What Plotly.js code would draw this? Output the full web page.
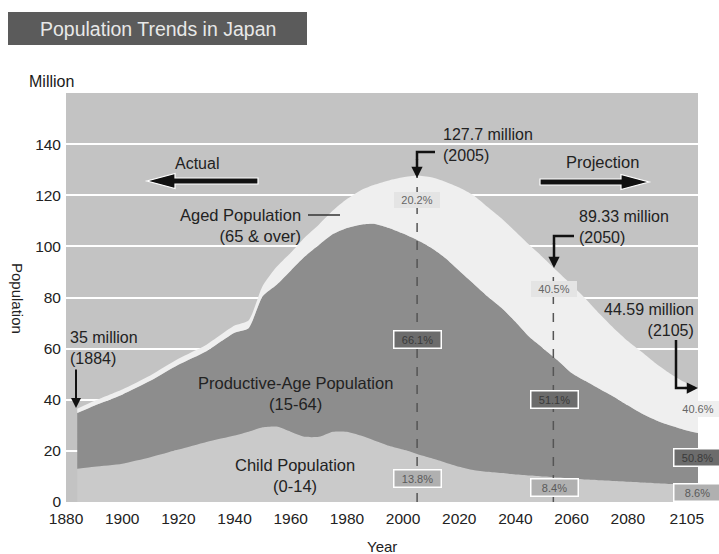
<!DOCTYPE html>
<html>
<head>
<meta charset="utf-8">
<script src="https://cdn.plot.ly/plotly-3.0.1.min.js"></script>
<style>html,body{margin:0;padding:0;background:#fff;}#chart{width:719px;height:554px;}</style>
</head>
<body>
<div id="chart"></div>
<script>
// ---- data (million people) ----
const years = [1884,1890,1900,1910,1920,1930,1940,1945,1950,1955,1960,1965,1970,1975,1980,1985,1990,1995,2000,2005,2010,2015,2020,2025,2030,2035,2040,2045,2050,2055,2060,2065,2070,2075,2080,2085,2090,2095,2100,2105];
const child = [13,13.8,15,17.5,20.5,23.5,26,27.5,29.2,29.5,27.5,25.5,25.5,27.5,27.5,26,24,22,20.5,18.8,17.2,15.5,13.8,12.5,11.8,11.3,10.8,10.4,10,9.6,9.2,8.8,8.5,8.2,7.9,7.6,7.3,7,6.8,6.5];
const productive = [21.8,23.9,27,29.9,33.2,35.5,40.2,40.5,51.3,55.5,63,70.5,75,77.3,79.7,82.5,84.8,85.2,84.5,83.7,82.3,80,76.7,73,68.7,64.7,59.7,54.1,50,45.9,41.3,38.5,35.7,33,29.9,27,24.7,23,21.5,20.5];
const aged = [1.7,1.8,2,2.1,2.3,2.5,2.8,3,4,7,7,7.5,8,9.2,11.3,13.5,15.4,18.6,22,25.2,27.5,29.8,32.5,34.5,35,35,35.3,36,35.5,34.7,34.5,32.2,29.3,26.8,25.2,24.1,22.2,20.3,18.7,17.6];

const tickYears = [1880,1900,1920,1940,1960,1980,2000,2020,2040,2060,2080,2101];
const tickText = ['1880','1900','1920','1940','1960','1980','2000','2020','2040','2060','2080','2105'];
const yTicks = [0,20,40,60,80,100,120,140];

const seriesNames = ['Child Population (0-14)','Productive-Age Population (15-64)','Aged Population (65 & over)'];
const seriesColors = ['#cacaca','#8d8d8d','#efefef'];

// ---- layout helpers (pixel -> paper) ----
const L=66, R=698, TP=93, B=502;
const X = p => (p-L)/(R-L);
const Y = p => (B-p)/(B-TP);
const FONT = 'Liberation Sans, Arial, Helvetica, sans-serif';

function txt(text, x, y, size, o) {
  o = o || {};
  return Object.assign({xref:'paper', yref:'paper', x:X(x), y:Y(y), text:text, showarrow:false,
    xanchor:o.xanchor||'center', yanchor:'middle', align:o.align||'center',
    font:{family:FONT, size:size, color:o.color||'#222'}}, o.extra||{});
}
function pct(text, x, y, bg, fg, border) {
  return {xref:'paper', yref:'paper', x:X(x), y:Y(y), text:text, showarrow:false,
    xanchor:'center', yanchor:'middle', font:{family:FONT, size:11, color:fg},
    bgcolor:bg, bordercolor:border, borderwidth:border==='rgba(0,0,0,0)'?0:1.5, borderpad:2, width:42};
}
function arrowPath(tail, tip, y, sh, hl, hh) {
  const d = Math.sign(tip-tail), hb = tip - d*hl;
  const pts = [[tail,y-sh/2],[hb,y-sh/2],[hb,y-hh/2],[tip,y],[hb,y+hh/2],[hb,y+sh/2],[tail,y+sh/2]];
  return 'M' + pts.map(p => X(p[0]).toFixed(5)+','+Y(p[1]).toFixed(5)).join(' L') + ' Z';
}
function pline(pts, w, color, dash) {
  return {type:'path', xref:'paper', yref:'paper',
    path:'M' + pts.map(p => X(p[0]).toFixed(5)+','+Y(p[1]).toFixed(5)).join(' L'),
    line:{color:color||'#111', width:w, dash:dash||'solid'}};
}

const traces = [child, productive, aged].map((vals, i) => ({
  x: years, y: vals, type:'scatter', mode:'lines', stackgroup:'pop',
  name: seriesNames[i], fillcolor: seriesColors[i],
  line:{width:0, shape:'spline', smoothing:0.6, color:seriesColors[i]}, hoverinfo:'skip'
}));

const shapes = [
  {type:'rect', xref:'paper', yref:'paper', x0:X(8), x1:X(307), y0:Y(45), y1:Y(12), fillcolor:'#5b5b5b', line:{width:0}, layer:'above'},
  {type:'path', xref:'paper', yref:'paper', path:arrowPath(258,147,181,6,28,15), fillcolor:'#111', line:{color:'#ffffff', width:1.2}},
  {type:'path', xref:'paper', yref:'paper', path:arrowPath(540,649,182,6,28,15), fillcolor:'#111', line:{color:'#ffffff', width:1.2}},
  {type:'line', xref:'x', yref:'y', x0:2005, x1:2005, y0:0, y1:127.4, line:{color:'#555', width:1.5, dash:'dash'}},
  {type:'line', xref:'x', yref:'y', x0:2053.5, x1:2053.5, y0:0, y1:91.5, line:{color:'#555', width:1.5, dash:'dash'}},
  pline([[417,160],[417,152],[435,152]], 2.5),
  pline([[554,244],[554,236],[574,236]], 2.5),
  pline([[676,340],[676,388],[686,388]], 2.5),
  pline([[308,215],[340,215]], 1.5, '#333')
];

const annotations = [
  txt('Population Trends in Japan', 158, 29, 19.5, {color:'#e8e8e8'}),
  txt('Million', 27, 82, 16, {xanchor:'left', color:'#1a1a1a'}),
  txt('Population', 18, 298, 15, {extra:{textangle:90}}),
  txt('Year', 382, 546, 15),
  txt('Actual', 197, 163, 16),
  txt('Projection', 602, 162, 16.5),
  txt('127.7 million<br>(2005)', 441, 145, 16, {xanchor:'left', align:'left'}),
  txt('89.33 million<br>(2050)', 577, 227, 16, {xanchor:'left', align:'left'}),
  txt('44.59 million<br>(2105)', 696, 320, 16, {xanchor:'right', align:'right'}),
  txt('35 million<br>(1884)', 68, 348, 16, {xanchor:'left', align:'left'}),
  txt('Aged Population<br>(65 & over)', 303, 225, 16.5, {xanchor:'right', align:'right'}),
  txt('Productive-Age Population<br>(15-64)', 295, 393, 16.5),
  txt('Child Population<br>(0-14)', 295, 475, 16.5),
  // arrows
  {xref:'paper', yref:'paper', x:X(417), y:Y(178), ax:0, ay:-20, text:'', showarrow:true, arrowhead:2, arrowsize:0.9, arrowwidth:2.5, arrowcolor:'#111'},
  {xref:'paper', yref:'paper', x:X(554), y:Y(268), ax:0, ay:-26, text:'', showarrow:true, arrowhead:2, arrowsize:0.9, arrowwidth:2.5, arrowcolor:'#111'},
  {xref:'paper', yref:'paper', x:X(698), y:Y(388), ax:-14, ay:0, text:'', showarrow:true, arrowhead:2, arrowsize:0.9, arrowwidth:2.5, arrowcolor:'#111'},
  {xref:'paper', yref:'paper', x:X(76), y:Y(408), ax:0, ay:-40, text:'', showarrow:true, arrowhead:2, arrowsize:1, arrowwidth:2, arrowcolor:'#111'},
  // percentage tags
  pct('20.2%', 417, 200, '#e4e4e4', '#666', 'rgba(0,0,0,0)'),
  pct('66.1%', 417, 339, '#6c6c6c', '#3a3a3a', '#ffffff'),
  pct('13.8%', 417, 478, '#b0b0b0', '#5a5a5a', '#ffffff'),
  pct('40.5%', 554, 289, '#e4e4e4', '#666', 'rgba(0,0,0,0)'),
  pct('51.1%', 554, 399, '#6c6c6c', '#3a3a3a', '#ffffff'),
  pct('8.4%', 554, 487, '#b0b0b0', '#5a5a5a', '#ffffff'),
  pct('40.6%', 698, 409, '#efefef', '#666', 'rgba(0,0,0,0)'),
  pct('50.8%', 697, 457, '#6c6c6c', '#3a3a3a', '#ffffff'),
  pct('8.6%', 697, 492, '#b0b0b0', '#5a5a5a', '#ffffff')
];

const layout = {
  width:719, height:554,
  margin:{l:L, r:719-R, t:TP, b:554-B, pad:0},
  paper_bgcolor:'#ffffff', plot_bgcolor:'#c3c3c3',
  showlegend:false,
  font:{family:FONT, color:'#222'},
  xaxis:{range:[1880,2105], tickvals:tickYears, ticktext:tickText, showgrid:false, zeroline:false,
         showline:false, ticks:'', ticklabelstandoff:5, tickfont:{size:15.5, color:'#222'}, fixedrange:true},
  yaxis:{range:[0,160], tickvals:yTicks, showgrid:true, gridcolor:'#ffffff', gridwidth:2, zeroline:false,
         showline:false, ticks:'', ticklabelstandoff:4, tickfont:{size:15.5, color:'#222'}, fixedrange:true},
  shapes:shapes,
  annotations:annotations
};

Plotly.newPlot('chart', traces, layout, {displayModeBar:false, staticPlot:true});
</script>
</body>
</html>
